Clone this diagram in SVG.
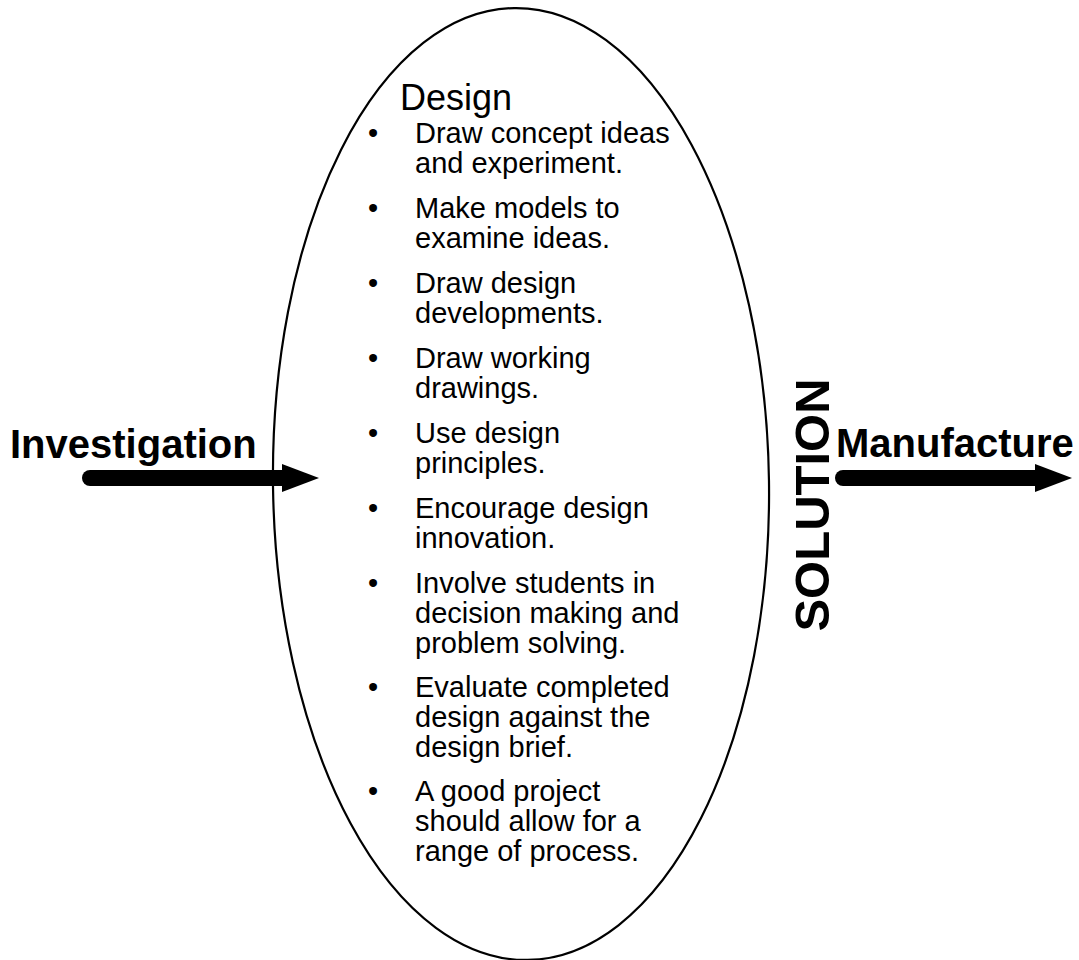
<svg xmlns="http://www.w3.org/2000/svg" width="1079" height="960" viewBox="0 0 1079 960">
  <defs>
    <style>
      .label { font-family: "Liberation Sans", Arial, sans-serif; fill: #000; }
      .title { font-size: 36px; }
      .item { font-size: 29px; }
      .stage { font-size: 40px; font-weight: bold; }
      .side { font-size: 49px; font-weight: bold; }
      .shaft { stroke: #000; stroke-width: 16; stroke-linecap: round; fill: none; }
    </style>
    <marker id="head" markerUnits="userSpaceOnUse" markerWidth="40" markerHeight="30" refX="1" refY="14" orient="auto">
      <path d="M0,0 L37,14 L0,28 Z" fill="#000"/>
    </marker>
  </defs>

  <rect width="1079" height="960" fill="#fff"/>

  <!-- central design stage -->
  <g id="design">
    <ellipse cx="521" cy="484" rx="248" ry="476" fill="none" stroke="#000" stroke-width="2.2" transform="rotate(-0.8 521 484)"/>
    <text class="label title" x="400" y="110">Design</text>
    <g class="label item">
      <text x="368" y="143">•</text>
      <text x="415" y="143">Draw concept ideas</text>
      <text x="415" y="173">and experiment.</text>

      <text x="368" y="218">•</text>
      <text x="415" y="218">Make models to</text>
      <text x="415" y="248">examine ideas.</text>

      <text x="368" y="293">•</text>
      <text x="415" y="293">Draw design</text>
      <text x="415" y="323">developments.</text>

      <text x="368" y="368">•</text>
      <text x="415" y="368">Draw working</text>
      <text x="415" y="398">drawings.</text>

      <text x="368" y="443">•</text>
      <text x="415" y="443">Use design</text>
      <text x="415" y="473">principles.</text>

      <text x="368" y="518">•</text>
      <text x="415" y="518">Encourage design</text>
      <text x="415" y="548">innovation.</text>

      <text x="368" y="593">•</text>
      <text x="415" y="593">Involve students in</text>
      <text x="415" y="623">decision making and</text>
      <text x="415" y="653">problem solving.</text>

      <text x="368" y="697">•</text>
      <text x="415" y="697">Evaluate completed</text>
      <text x="415" y="727">design against the</text>
      <text x="415" y="757">design brief.</text>

      <text x="368" y="801">•</text>
      <text x="415" y="801">A good project</text>
      <text x="415" y="831">should allow for a</text>
      <text x="415" y="861">range of process.</text>
    </g>
  </g>

  <g id="investigation">
    <text class="label stage" x="10" y="458">Investigation</text>
  </g>

  <g id="solution">
    <text class="label side" text-anchor="middle" transform="translate(829 505) rotate(-90)">SOLUTION</text>
  </g>

  <g id="manufacture">
    <text class="label stage" x="836" y="457">Manufacture</text>
  </g>

  <!-- flow arrows -->
  <g id="connectors">
    <line class="shaft" x1="90" y1="478" x2="283" y2="478" marker-end="url(#head)"/>
    <line class="shaft" x1="843" y1="478" x2="1036" y2="478" marker-end="url(#head)"/>
  </g>
</svg>
